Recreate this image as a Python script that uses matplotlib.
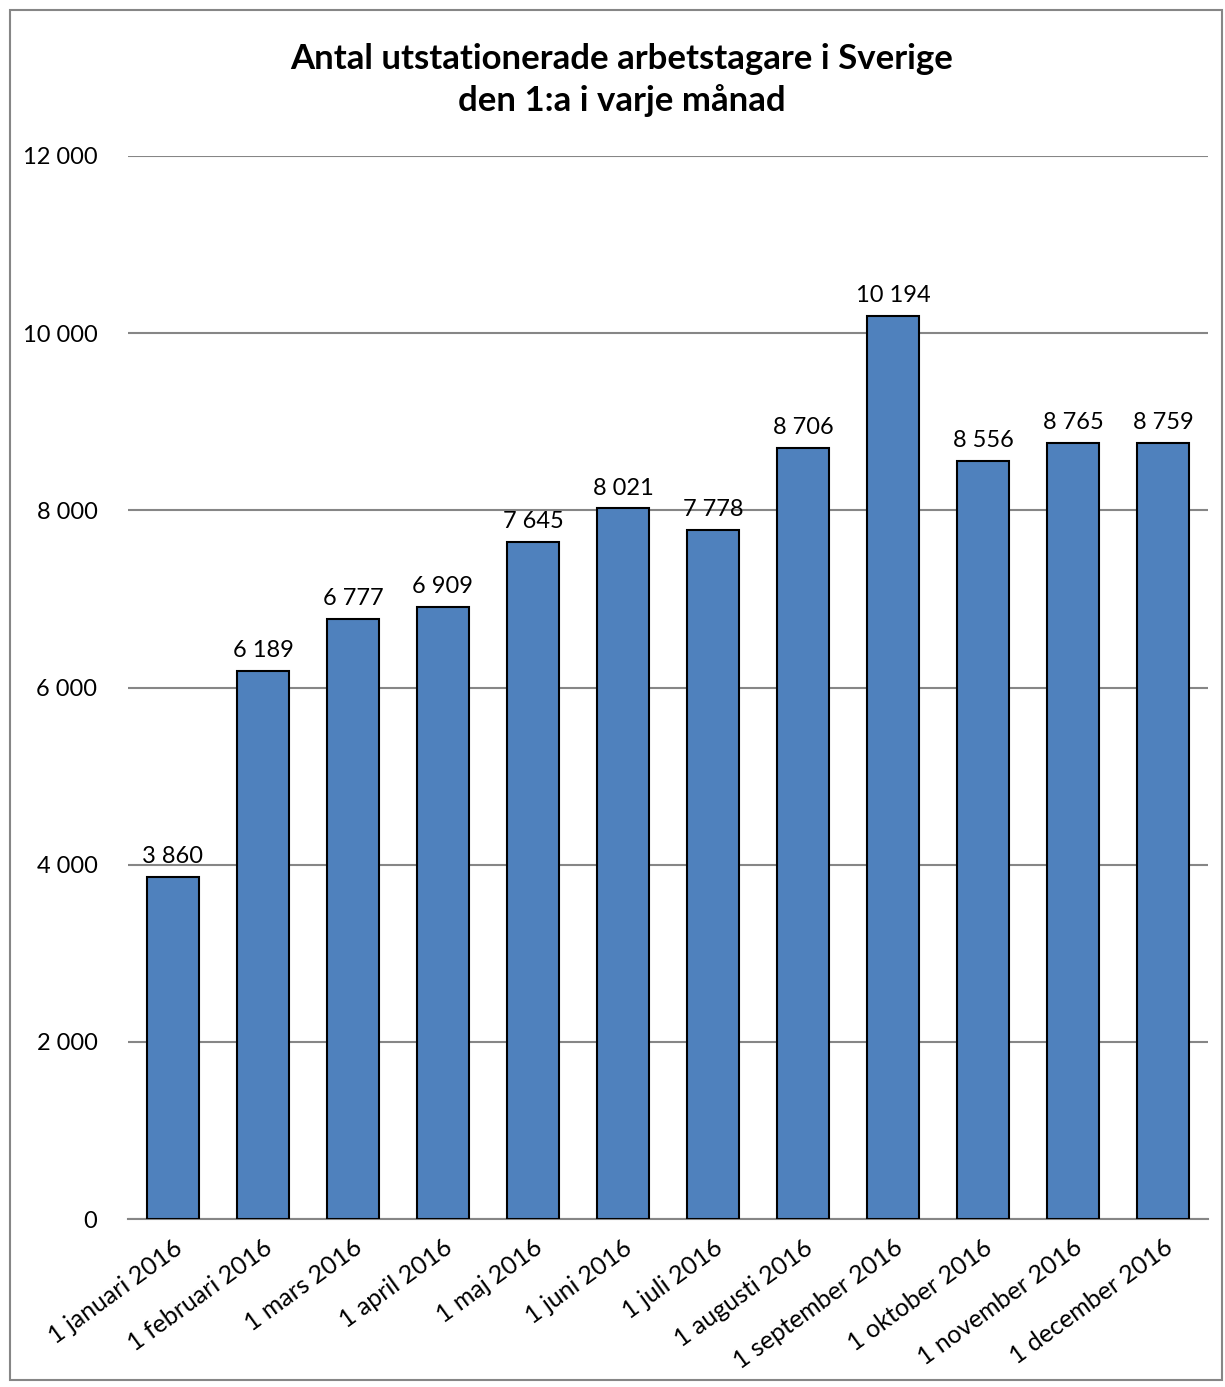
import matplotlib
matplotlib.use("Agg")
import matplotlib.pyplot as plt
from matplotlib.patches import Rectangle

categories = ["1 januari 2016", "1 februari 2016", "1 mars 2016", "1 april 2016",
              "1 maj 2016", "1 juni 2016", "1 juli 2016", "1 augusti 2016",
              "1 september 2016", "1 oktober 2016", "1 november 2016", "1 december 2016"]
values = [3860, 6189, 6777, 6909, 7645, 8021, 7778, 8706, 10194, 8556, 8765, 8759]
yticks = [0, 2000, 4000, 6000, 8000, 10000, 12000]
title = "Antal utstationerade arbetstagare i Sverige\nden 1:a i varje månad"

def fmt(v):
    return f"{v:,}".replace(",", " ")

plt.rcParams['font.family'] = ['Lato', 'DejaVu Sans']

W, H = 1225, 1387
fig = plt.figure(figsize=(W/100, H/100), dpi=100)
ax = fig.add_axes([128/W, 1 - 1219/H, (1208-128)/W, (1219-156)/H])

x = list(range(len(categories)))
ax.bar(x, values, width=0.57, color="#4F81BD", edgecolor="black", linewidth=1.5, zorder=3)
for xi, v in zip(x, values):
    ax.annotate(fmt(v), (xi, v), xytext=(0, 7), textcoords="offset points",
                ha="center", va="bottom", fontsize=17, color="black")

ax.set_xlim(-0.5, len(categories) - 0.5)
ax.set_ylim(0, 12000)
ax.set_yticks(yticks)
ax.set_yticklabels([fmt(t) for t in yticks], fontsize=17)
ax.yaxis.grid(True, color="#868686", linewidth=1.5, zorder=0)
ax.set_axisbelow(True)
for s in ["top", "right", "left"]:
    ax.spines[s].set_visible(False)
ax.spines["bottom"].set_color("#868686")
ax.spines["bottom"].set_linewidth(1.5)
ax.tick_params(axis="y", length=0, pad=22)
ax.tick_params(axis="x", length=0, pad=12)
ax.set_xticks(x)
ax.set_xticklabels(categories, rotation=36, ha="right", rotation_mode="anchor", fontsize=18)

fig.text(0.5 + (621-612)/W, 1 - 80/H, title, ha="center", va="center", fontsize=25,
         fontweight="bold", linespacing=1.3)

fig.patches.append(Rectangle((10/W, 1 - 1380/H), (1222-10)/W, (1380-10)/H,
                             transform=fig.transFigure, fill=False,
                             edgecolor="#868686", linewidth=1.5))

fig.savefig("out.png", dpi=100, facecolor="white")
